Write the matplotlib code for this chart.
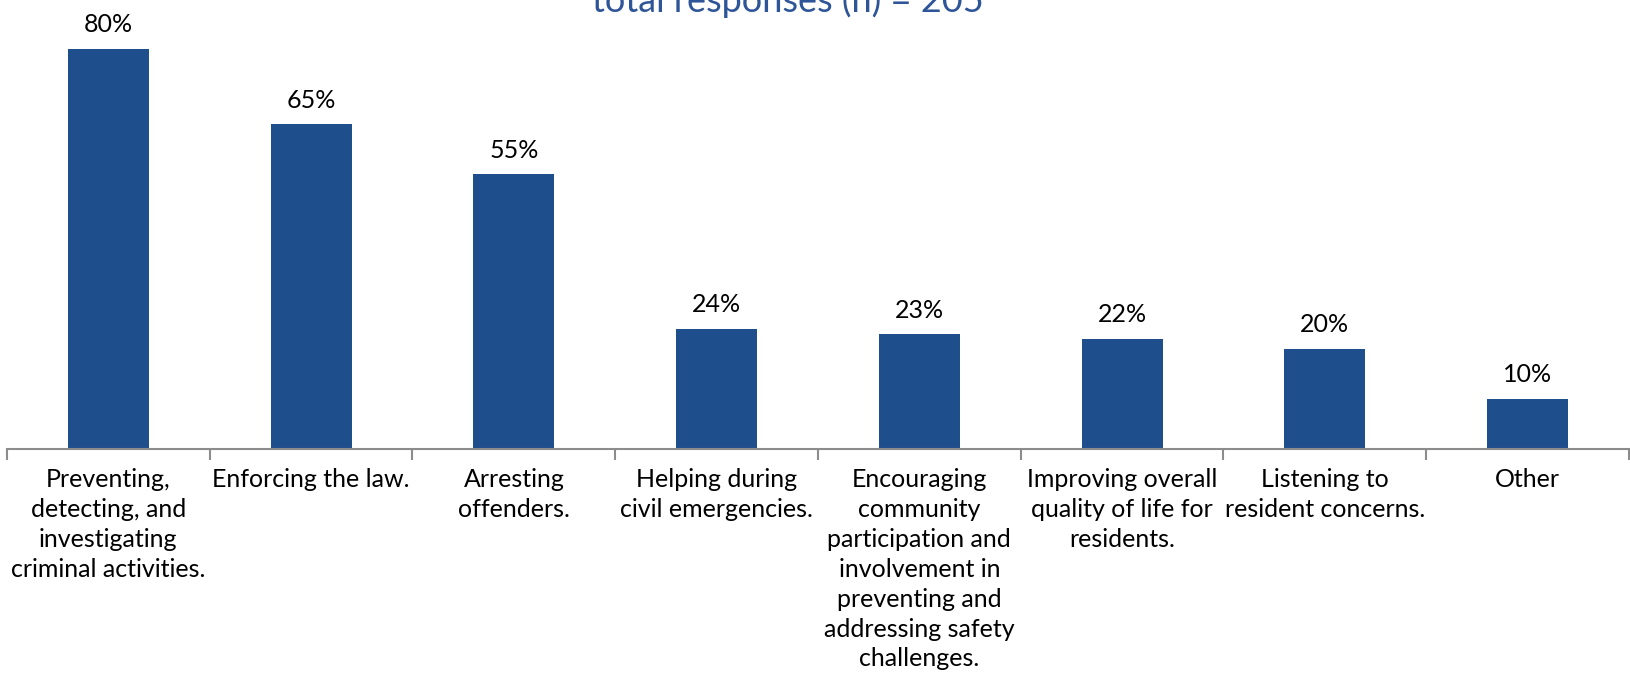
import matplotlib.pyplot as plt
import numpy as np

# survey results: share of respondents per police role
categories = [
    "Preventing,\ndetecting, and\ninvestigating\ncriminal activities.",
    "Enforcing the law.",
    "Arresting\noffenders.",
    "Helping during\ncivil emergencies.",
    "Encouraging\ncommunity\nparticipation and\ninvolvement in\npreventing and\naddressing safety\nchallenges.",
    "Improving overall\nquality of life for\nresidents.",
    "Listening to\nresident concerns.",
    "Other",
]
values = [80, 65, 55, 24, 23, 22, 20, 10]

plt.rcParams['font.family'] = ['Lato', 'DejaVu Sans']

fig = plt.figure(figsize=(16.31, 6.82), dpi=100)
ax = fig.add_axes([7 / 1631, 233 / 682, 1622 / 1631, 449 / 682])

x = np.arange(len(values))
bars = ax.bar(x, values, width=0.4, color='#1F4E8C')

for b, v in zip(bars, values):
    ax.annotate(f"{v}%", (b.get_x() + b.get_width() / 2, v),
                xytext=(0, 9), textcoords='offset points',
                ha='center', va='bottom', fontsize=18, color='black')

ax.set_xlim(-0.5, len(values) - 0.5)
ax.set_ylim(0, 89.8)

# ticks sit on category boundaries, labels in the middle
ax.set_xticks(np.arange(len(values) + 1) - 0.5)
ax.set_xticklabels([])
ax.set_xticks(x, minor=True)
ax.set_xticklabels(categories, minor=True, fontsize=18, linespacing=1.36, va='top')
ax.tick_params(axis='x', which='major', length=8, color='#8c8c8c', width=1.5)
ax.tick_params(axis='x', which='minor', length=0, pad=14)
ax.set_yticks([])

for s in ['top', 'right', 'left']:
    ax.spines[s].set_visible(False)
ax.spines['bottom'].set_color('#8c8c8c')
ax.spines['bottom'].set_linewidth(1.5)

fig.text(0.483, 0.982, "total responses (n) = 205", ha='center', va='baseline',
         fontsize=26, color='#2E5597')

fig.savefig('out.png', dpi=100)
